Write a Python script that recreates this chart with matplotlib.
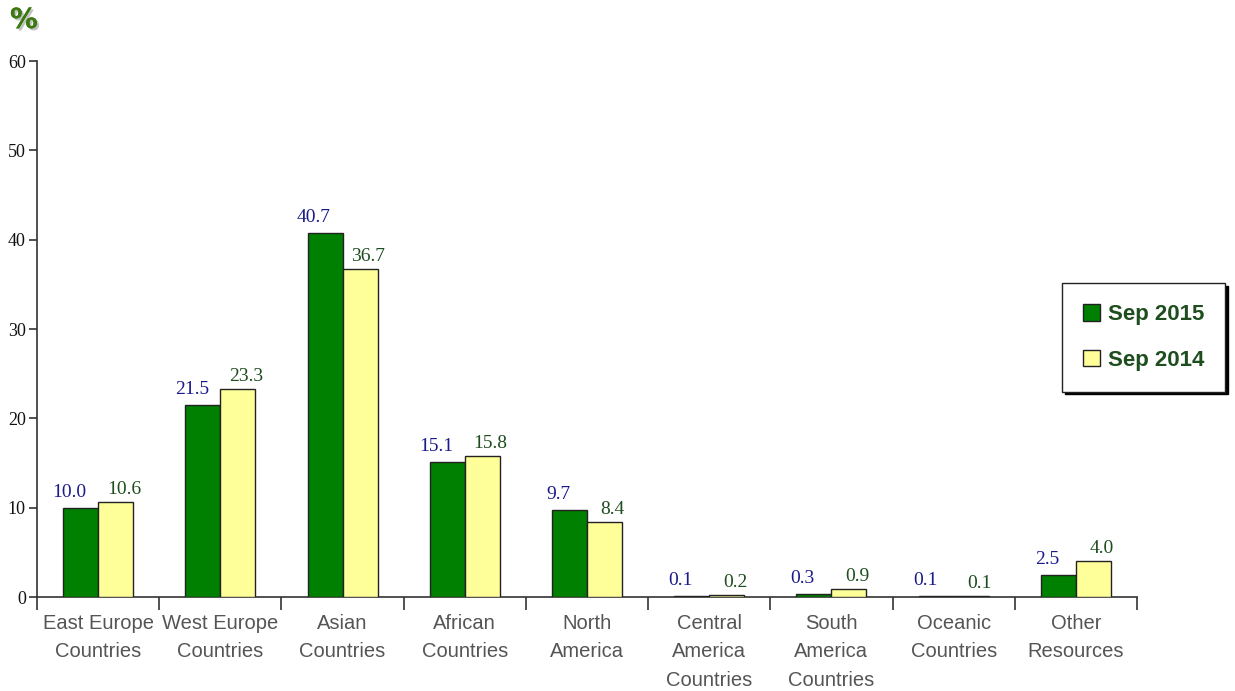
import matplotlib
matplotlib.use("Agg")
import matplotlib.pyplot as plt
import matplotlib.patheffects as pe
import numpy as np

categories = ["East Europe\nCountries", "West Europe\nCountries", "Asian\nCountries",
              "African\nCountries", "North\nAmerica", "Central\nAmerica\nCountries",
              "South\nAmerica\nCountries", "Oceanic\nCountries", "Other\nResources"]
sep2015 = [10.0, 21.5, 40.7, 15.1, 9.7, 0.1, 0.3, 0.1, 2.5]
sep2014 = [10.6, 23.3, 36.7, 15.8, 8.4, 0.2, 0.9, 0.1, 4.0]
yticks = [0, 10, 20, 30, 40, 50, 60]

fig = plt.figure(figsize=(12.35, 6.91), dpi=100)
ax = fig.add_axes([37/1235, 1-597/691, 1100/1235, 536/691])

x = np.arange(len(categories))
w = 0.286
ax.bar(x - w/2, sep2015, w, color="#008000", edgecolor="#222222", linewidth=1.0, label="Sep 2015", zorder=3)
ax.bar(x + w/2, sep2014, w, color="#ffff99", edgecolor="#222222", linewidth=1.0, label="Sep 2014", zorder=3)

for i in range(len(categories)):
    ax.annotate(f"{sep2015[i]:.1f}", (x[i] - w/2, sep2015[i]), xytext=(-8, 5),
                textcoords="offset points", ha="center", va="bottom",
                fontsize=14, family="Liberation Serif", color="#1a1a8c")
    ax.annotate(f"{sep2014[i]:.1f}", (x[i] + w/2, sep2014[i]), xytext=(6, 3),
                textcoords="offset points", ha="center", va="bottom",
                fontsize=14, family="Liberation Serif", color="#1e4d1e")

ax.set_xlim(-0.5, len(categories) - 0.5)
ax.set_ylim(0, 60)
ax.set_yticks(yticks)
ax.set_yticklabels([str(t) for t in yticks], family="Liberation Serif", fontsize=13, color="#111111")
ax.tick_params(axis="y", direction="out", length=6, width=1.2, color="#333333", pad=2)

ax.set_xticks(np.arange(len(categories) + 1) - 0.5, minor=False)
ax.set_xticklabels([""] * (len(categories) + 1))
ax.tick_params(axis="x", direction="out", length=9, width=1.2, color="#333333")
for i, c in enumerate(categories):
    ax.text(x[i], -1.85, c, ha="center", va="top", fontsize=14.5,
            family="Liberation Sans", color="#555555", linespacing=1.65)

for s in ["top", "right"]:
    ax.spines[s].set_visible(False)
ax.spines["left"].set_color("#333333")
ax.spines["bottom"].set_color("#333333")
ax.spines["left"].set_linewidth(1.2)
ax.spines["bottom"].set_linewidth(1.2)

# Legend
leg = ax.legend(loc="upper left", bbox_to_anchor=((1062-37)/1100, (597-283)/536),
                frameon=True, fancybox=False, shadow={"color": "black", "alpha": 1.0},
                prop={"family": "Liberation Sans", "weight": "bold", "size": 16},
                handlelength=0.75, handleheight=0.75, handletextpad=0.35,
                labelspacing=1.1, borderpad=0.95, borderaxespad=0)
leg.get_frame().set_edgecolor("#222222")
leg.get_frame().set_linewidth(1.0)
for t in leg.get_texts():
    t.set_color("#1e4d1e")
leg.set_zorder(10)

fig.text(10/1235, 1-20/691, "%", fontsize=20, fontweight="bold", color="#3a7a10",
         family="DejaVu Sans", va="center", ha="left",
         path_effects=[pe.withSimplePatchShadow(offset=(1.5, -1.5), shadow_rgbFace="#999999", alpha=0.6), pe.Normal()])

fig.savefig("out.png", dpi=100, facecolor="white")
